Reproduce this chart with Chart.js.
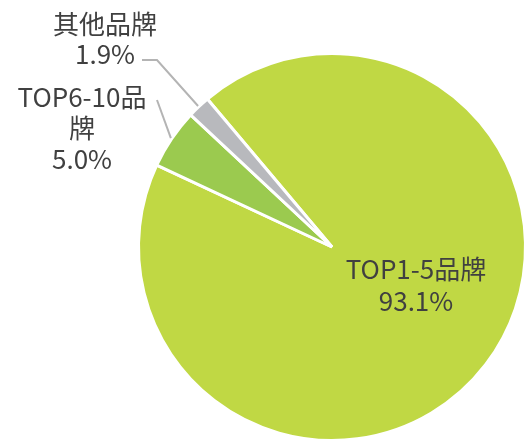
<!DOCTYPE html>
<html>
<head>
<meta charset="utf-8">
<script src="https://cdn.jsdelivr.net/npm/chart.js@4"></script>
<style>
	html, body { margin: 0; padding: 0; background: #fff; overflow: hidden; }
	#wrap { position: relative; width: 540px; height: 460px; }
</style>
</head>
<body>
<div id="wrap"><canvas id="chart" width="540" height="460"></canvas></div>
<script>
// Brand share data
const categories = ['TOP1-5品牌', 'TOP6-10品牌', '其他品牌'];
const shares = [93.1, 5.0, 1.9];
const sliceColors = ['#c0d844', '#9bca4f', '#b8b9bd'];
// label text as it wraps on the picture
const labelLines = [['TOP1-5品牌', '93.1%'], ['TOP6-10品', '牌', '5.0%'], ['其他品牌', '1.9%']];

const FONT = '26px "Noto Sans CJK SC", "Open Sans", sans-serif';

// draws the labels and leader lines
const labelPlugin = {
	id: 'pieLabels',
	afterDraw(chart) {
		const ctx = chart.ctx;
		const arcs = chart.getDatasetMeta(0).data;
		ctx.save();
		ctx.font = FONT;
		ctx.fillStyle = '#404040';
		ctx.textAlign = 'center';
		ctx.textBaseline = 'alphabetic';
		ctx.strokeStyle = '#b4b4b4';
		ctx.lineWidth = 2;

		arcs.forEach((arc, i) => {
			const { x, y, startAngle, endAngle, outerRadius } = arc.getProps(['x', 'y', 'startAngle', 'endAngle', 'outerRadius'], true);
			const mid = (startAngle + endAngle) / 2;
			const lines = labelLines[i];
			if (i === 0) {
				// inside the big slice
				const tx = x + 84, ty = y + 32;
				lines.forEach((t, k) => ctx.fillText(t, tx, ty + k * 32));
				return;
			}
			const ex = x + Math.cos(mid) * (outerRadius + 1);
			const ey = y + Math.sin(mid) * (outerRadius + 1);
			ctx.beginPath();
			ctx.moveTo(ex, ey);
			if (i === 1) {
				ctx.lineTo(157, 100);
				ctx.stroke();
				lines.forEach((t, k) => ctx.fillText(t, 82, 107 + k * 31));
			} else {
				ctx.lineTo(157, 60);
				ctx.lineTo(142, 60);
				ctx.stroke();
				lines.forEach((t, k) => ctx.fillText(t, 105, 34 + k * 30));
			}
		});
		ctx.restore();
	}
};

new Chart(document.getElementById('chart'), {
	type: 'pie',
	data: {
		labels: categories,
		datasets: [{
			data: shares,
			backgroundColor: sliceColors,
			borderColor: '#ffffff',
			borderWidth: 3
		}]
	},
	options: {
		responsive: false,
		animation: false,
		rotation: -40.1,
		layout: { padding: { left: 137, top: 52, right: 13, bottom: 18 } },
		plugins: {
			legend: { display: false },
			tooltip: { enabled: false }
		}
	},
	plugins: [labelPlugin]
});
</script>
</body>
</html>
